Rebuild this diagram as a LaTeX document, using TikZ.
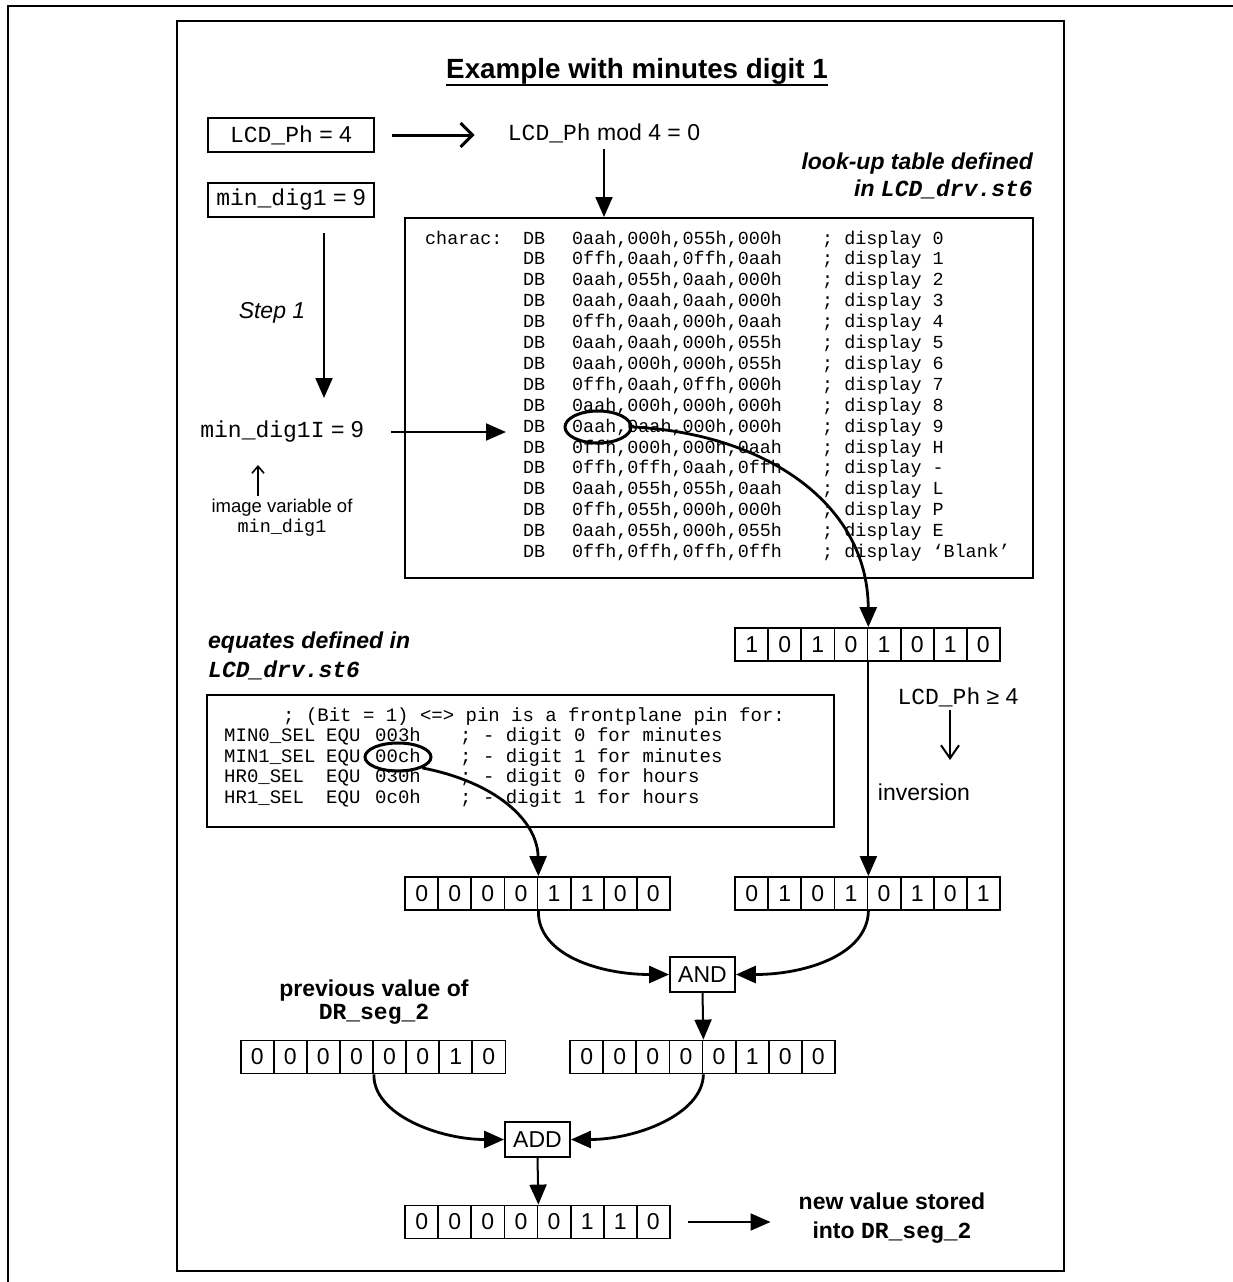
\documentclass[tikz,border=0pt]{standalone}
\usepackage{fontspec}
\setmainfont{Liberation Sans}
\setsansfont{Liberation Sans}
\setmonofont{Liberation Mono}
\usetikzlibrary{
  arrows.meta,
  shapes.geometric
}
\newcommand\lblfont{\fontsize{23}{27}\selectfont}
\newcommand\codefont{\fontsize{18.4}{21}\selectfont\ttfamily}
\newcommand\eqfont{\fontsize{19}{21}\selectfont\ttfamily}
\newcommand\notefont{\fontsize{18.5}{20}\selectfont}
\newcommand\headfont{\fontsize{27.8}{32}\selectfont\bfseries}
\tikzset{
  every node/.style={inner sep=0pt, text=black},
  panel/.style={draw, line width=2pt},
  tagbox/.style={draw, line width=2pt, font=\lblfont, minimum width=166pt, minimum height=34pt},
  bitcell/.style={draw, line width=1.8pt, font=\lblfont, minimum width=33.1pt, minimum height=33pt},
  opbox/.style={draw, line width=1.8pt, font=\lblfont, minimum width=65pt, minimum height=35pt},
  code/.style={font=\codefont, anchor=base west},
  eqcode/.style={code, font=\eqfont},
  plaintext/.style={font=\lblfont},
  heading/.style={font=\bfseries\itshape\lblfont},
  ring/.style={draw, ellipse, line width=3pt},
  feed/.style={-{Triangle[length=20pt,width=17pt]}, line width=2pt},
  sweep/.style={feed, line width=2.8pt},
  openarrow/.style={-{Straight Barb[length=12pt,width=24pt,line width=3pt]}, line width=3pt},
  thinarrow/.style={-{Straight Barb[length=13pt,width=18pt,line width=2pt]}, line width=2pt},
  hintarrow/.style={-{Straight Barb[length=7pt,width=12pt,line width=1.6pt]}, line width=1.6pt}
}
% one register of eight bits, cells named <name>-1 ... <name>-8
\newcommand\bitrow[4]{%
  \foreach \b [count=\i] in {#4} {
    \node[bitcell] (#1-\i) at ({#2+(\i-4.5)*33.1},#3) {\b};
  }
}

\begin{document}
\begin{tikzpicture}[x=1pt, y=-1pt]
  \useasboundingbox (0,0) rectangle (1233,1282);
  \draw[line width=2.4pt] (8,1290) -- (8,6) -- (1240,6);
  \draw[panel] (177,21) rectangle (1064,1271);

  \node[font=\headfont] (title) at (637,71) {Example with minutes digit 1};
  \draw[line width=2.2pt] ([yshift=-7pt]title.base west) -- ([yshift=-7pt]title.base east);

  % inputs
  \node[tagbox] (ph) at (291,135) {{\ttfamily LCD\_Ph} = 4};
  \node[tagbox] (dig) at (291,200) {{\ttfamily min\_dig1} = 9};
  \node[plaintext] (mod) at (604,133) {{\ttfamily LCD\_Ph} mod 4 = 0};
  \draw[openarrow, shorten <=17pt, shorten >=33pt] (ph.east) -- (mod.west |- ph.east);

  \node[heading, align=right, anchor=east] (lutlbl) at (1033,176)
    {look-up table defined\\in {\ttfamily LCD\_drv.st6}};

  % look-up table
  \node[panel, minimum width=628pt, minimum height=360pt] (lut) at (719,398) {};
  \draw[feed, shorten <=6pt] (mod.south) -- (mod.south |- lut.north);
  \node[code] (charac) at (425,244) {charac:};
  \foreach \hx/\d [count=\r from 0] in {{0aah,000h,055h,000h}/0, {0ffh,0aah,0ffh,0aah}/1,
      {0aah,055h,0aah,000h}/2, {0aah,0aah,0aah,000h}/3, {0ffh,0aah,000h,0aah}/4,
      {0aah,0aah,000h,055h}/5, {0aah,000h,000h,055h}/6, {0ffh,0aah,0ffh,000h}/7,
      {0aah,000h,000h,000h}/8, {0aah,0aah,000h,000h}/9, {0ffh,000h,000h,0aah}/H,
      {0ffh,0ffh,0aah,0ffh}/-, {0aah,055h,055h,0aah}/L, {0ffh,055h,000h,000h}/P,
      {0aah,055h,000h,055h}/E, {0ffh,0ffh,0ffh,0ffh}/‘Blank’} {
    \node[code] (db-\r) at (523,{244+\r*20.9}) {DB};
    \node[code] (hx-\r) at (572,{244+\r*20.9}) {\hx};
    \node[code] (cm-\r) at (822,{244+\r*20.9}) {; display \d};
  }
  \node[ring, minimum width=66pt, minimum height=32pt] (pick) at (598,427) {};

  % step 1
  \coordinate (s1) at (324,233);
  \coordinate (s1end) at (324,398);
  \draw[feed] (s1) -- (s1end);
  \node[font=\itshape\lblfont] (step) at (272,313) {Step 1};
  \node[plaintext] (digi) at (282,432) {{\ttfamily min\_dig1I} = 9};
  \draw[feed, shorten <=27pt, shorten >=17pt] (digi.east) -- (digi.east -| db-9.west);
  \coordinate (imgtip) at (258,465);
  \node[font=\notefont, align=center] (imgvar) at (282,518) {image variable of\\{\ttfamily min\_dig1}};
  \draw[hintarrow, shorten <=3pt] (imgtip |- imgvar.north) -- (imgtip);

  % selected byte and its inversion
  \bitrow{lutbits}{867.5}{644.5}{1,0,1,0,1,0,1,0}
  \draw[sweep] (pick.east) .. controls (760,433) and (867.5,500) .. (lutbits-4.north east);
  \node[plaintext] (cond) at (958,697) {{\ttfamily LCD\_Ph} ≥ 4};
  \coordinate (condA) at (950,710);
  \coordinate (condB) at (950,760);
  \draw[thinarrow] (condA) -- (condB);
  \node[plaintext] (invtxt) at (924,792) {inversion};
  \bitrow{invbits}{867.5}{893.5}{0,1,0,1,0,1,0,1}
  \draw[feed] (lutbits-4.south east) -- (invbits-4.north east);

  % equates
  \node[heading, align=left, anchor=west] (eqlbl) at (208,656)
    {equates defined in\\[2pt]{\ttfamily LCD\_drv.st6}};
  \node[panel, minimum width=627pt, minimum height=132pt] (equ) at (520.5,761) {};
  \node[eqcode] (eqhead) at (283,721) {; (Bit = 1) <=> pin is a frontplane pin for:};
  \foreach \nm/\val/\cmt [count=\r] in {MIN0\_SEL/003h/0 for minutes, MIN1\_SEL/00ch/1 for minutes,
      HR0\_SEL/030h/0 for hours, HR1\_SEL/0c0h/1 for hours} {
    \node[eqcode] (eqn-\r) at (224,{721+\r*20.5}) {\nm};
    \node[eqcode] (eqk-\r) at (326,{721+\r*20.5}) {EQU};
    \node[eqcode] (eqv-\r) at (375,{721+\r*20.5}) {\val};
    \node[eqcode] (eqc-\r) at (460,{721+\r*20.5}) {; - digit \cmt};
  }
  \node[ring, minimum width=66pt, minimum height=28pt] (pickeq) at (398,757) {};
  \bitrow{selbits}{537.5}{893.5}{0,0,0,0,1,1,0,0}
  \draw[sweep] (pickeq.south east) .. controls (495,782) and (537.5,820) .. (selbits-4.north east);

  % AND
  \node[opbox] (and) at (702.5,974.5) {AND};
  \draw[sweep] (selbits-4.south east) .. controls (537.5,955) and (600,974.5) .. (and.west);
  \draw[sweep] (invbits-4.south east) .. controls (867.5,955) and (805,974.5) .. (and.east);
  \bitrow{resbits}{702.5}{1057}{0,0,0,0,0,1,0,0}
  \draw[feed] (and.south) -- (resbits-4.north east);

  % previous value and ADD
  \node[align=center, font=\bfseries\fontsize{23}{23}\selectfont] (prevlbl) at (374,1002)
    {previous value of\\{\ttfamily DR\_seg\_2}};
  \bitrow{prevbits}{373}{1057}{0,0,0,0,0,0,1,0}
  \node[opbox] (add) at (537.5,1139.5) {ADD};
  \draw[sweep] (prevbits-4.south east) .. controls (373,1115) and (440,1139.5) .. (add.west);
  \draw[sweep] (resbits-4.south east) .. controls (702.5,1115) and (635,1139.5) .. (add.east);
  \bitrow{finbits}{537.5}{1222}{0,0,0,0,0,1,1,0}
  \draw[feed] (add.south) -- (finbits-4.north east);

  \node[align=center, font=\bfseries\fontsize{23}{29}\selectfont] (store) at (892,1218)
    {new value stored\\into {\ttfamily DR\_seg\_2}};
  \draw[feed, shorten <=17pt, shorten >=28pt] (finbits-8.east) -- (finbits-8.east -| store.west);
\end{tikzpicture}
\end{document}
